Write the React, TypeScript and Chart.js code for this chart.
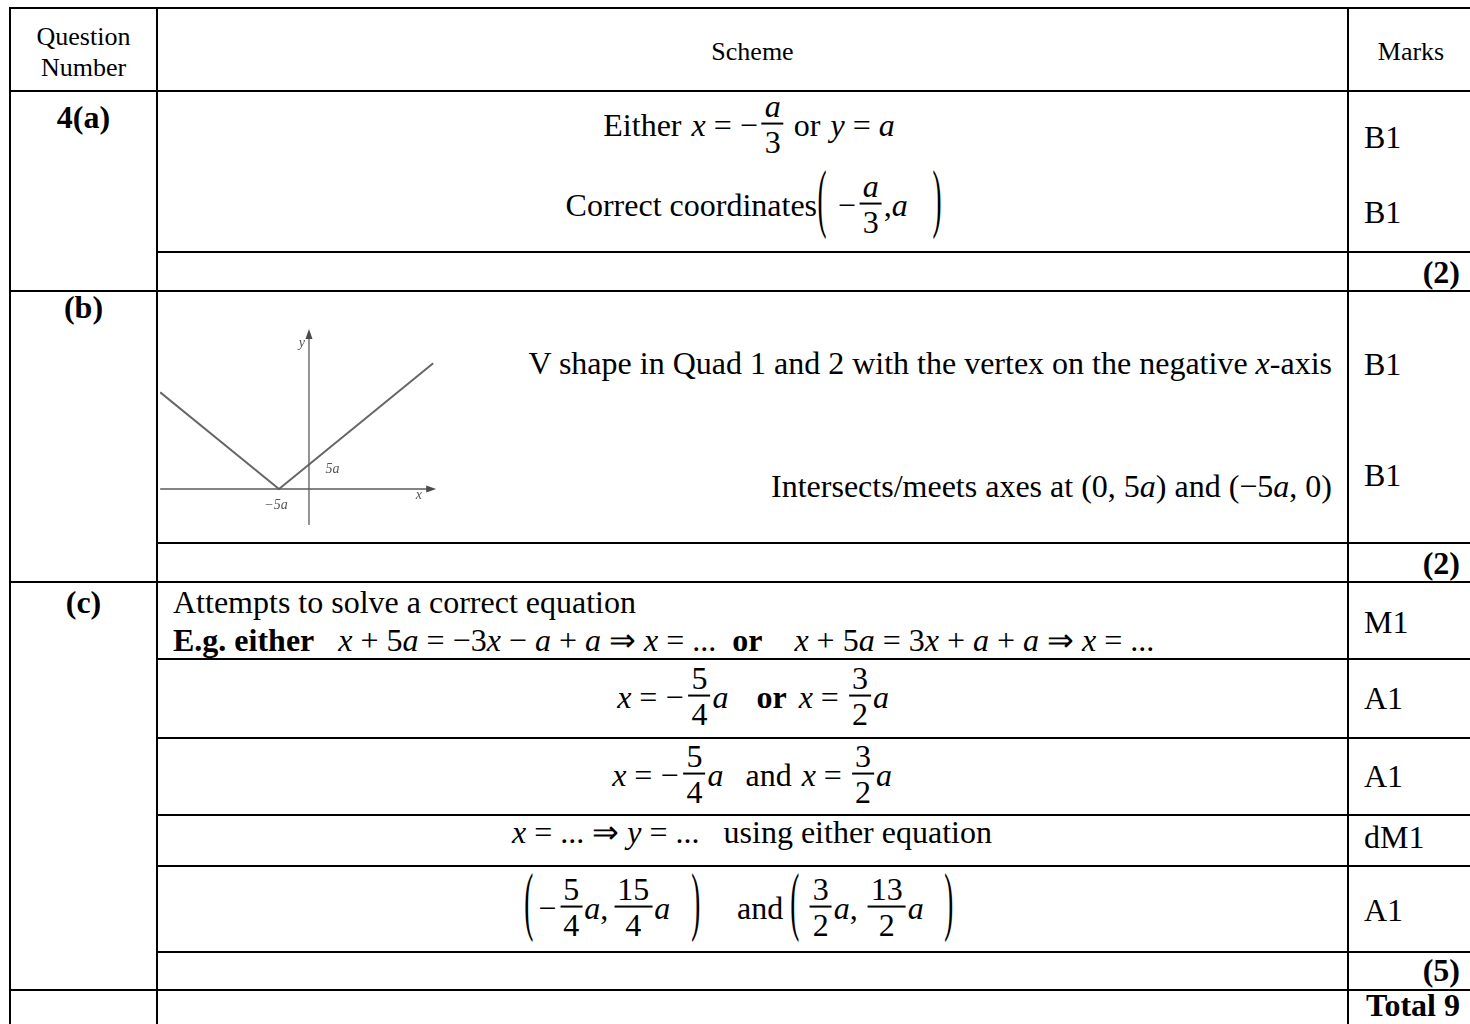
import React, { useEffect, useRef } from "react";
import { Chart, registerables } from "chart.js";

Chart.register(...registerables);

// ---------- data for the sketch graph (a = 1) ----------
const vShapeX = [-24.8, -5, 20.7];
const vShapeY = [18.6, 0, 24.2];
const xAxisX = [-24.8, 20.7];
const yAxisY = [-6.9, 30.2];
const graphLabelText = ["y", "x", "5a", "−5a"];
const graphLabelX = [-1.2, 18.3, 3.9, -5.5];
const graphLabelY = [28, -1.2, 3.7, -3.1];

// ---------- table text ----------
const headerTexts = ["Question", "Number", "Scheme", "Marks"];
const partLabels = ["4(a)", "(b)", "(c)"];
const subtotalMarks = ["(2)", "(2)", "(5)"];
const totalText = "Total 9";
const markCodes = ["B1", "B1", "B1", "B1", "M1", "A1", "A1", "dM1", "A1"];

const serif = '"Liberation Serif", "Times New Roman", serif';
const FS = 32;

const SketchGraph: React.FC = () => {
  const ref = useRef<HTMLCanvasElement | null>(null);
  useEffect(() => {
    if (!ref.current) return;
    const arrowPlugin = {
      id: "axesDecor",
      afterDatasetsDraw(chart: any) {
        const { ctx, scales } = chart;
        const xs = scales.x;
        const ys = scales.y;
        ctx.save();
        ctx.fillStyle = "#4a4a4a";
        const ax = xs.getPixelForValue(xAxisX[1]);
        const ay = ys.getPixelForValue(0);
        ctx.beginPath();
        ctx.moveTo(ax + 3, ay);
        ctx.lineTo(ax - 7, ay - 3.5);
        ctx.lineTo(ax - 7, ay + 3.5);
        ctx.closePath();
        ctx.fill();
        const bx = xs.getPixelForValue(0);
        const by = ys.getPixelForValue(yAxisY[1]);
        ctx.beginPath();
        ctx.moveTo(bx, by - 3);
        ctx.lineTo(bx - 3.5, by + 7);
        ctx.lineTo(bx + 3.5, by + 7);
        ctx.closePath();
        ctx.fill();
        ctx.fillStyle = "#555";
        ctx.font = 'italic 14px "Liberation Serif", serif';
        ctx.textAlign = "center";
        ctx.textBaseline = "middle";
        graphLabelText.forEach((t, i) => {
          ctx.fillText(t, xs.getPixelForValue(graphLabelX[i]), ys.getPixelForValue(graphLabelY[i]));
        });
        ctx.restore();
      },
    };
    const chart = new Chart(ref.current, {
      type: "scatter",
      data: {
        datasets: [
          {
            data: xAxisX.map((x) => ({ x, y: 0 })),
            showLine: true,
            borderColor: "#5a5a5a",
            borderWidth: 1.3,
            pointRadius: 0,
          },
          {
            data: yAxisY.map((y) => ({ x: 0, y })),
            showLine: true,
            borderColor: "#5a5a5a",
            borderWidth: 1.3,
            pointRadius: 0,
          },
          {
            data: vShapeX.map((x, i) => ({ x, y: vShapeY[i] })),
            showLine: true,
            borderColor: "#666",
            borderWidth: 2,
            pointRadius: 0,
          },
        ],
      },
      options: {
        animation: false,
        responsive: false,
        devicePixelRatio: 1,
        layout: { padding: 0 },
        plugins: { legend: { display: false }, tooltip: { enabled: false } },
        scales: {
          x: { type: "linear", display: false, min: -24.83, max: 22.17 },
          y: { type: "linear", display: false, min: -7.5, max: 30.96 },
        },
      },
      plugins: [arrowPlugin],
    });
    return () => chart.destroy();
  }, []);
  return (
    <canvas
      ref={ref}
      width={282}
      height={200}
      style={{ position: "absolute", left: 160, top: 328, width: 282, height: 200 }}
    />
  );
};

// ---------- helpers ----------
const HL = ({ y, x1, x2 }: { y: number; x1: number; x2: number }) => (
  <div style={{ position: "absolute", left: x1 - 1, top: y - 1, width: x2 - x1 + 2, height: 2, background: "#000" }} />
);
const VL = ({ x, y1, y2 }: { x: number; y1: number; y2: number }) => (
  <div style={{ position: "absolute", left: x - 1, top: y1 - 1, width: 2, height: y2 - y1 + 2, background: "#000" }} />
);

type TProps = {
  x: number;
  base: number;
  align?: "left" | "center" | "right";
  size?: number;
  bold?: boolean;
  children: React.ReactNode;
};
const T = ({ x, base, align = "left", size = FS, bold = false, children }: TProps) => {
  const tx = align === "center" ? "-50%" : align === "right" ? "-100%" : "0";
  return (
    <div
      style={{
        position: "absolute",
        left: x,
        top: base - 0.8375 * size,
        fontSize: size,
        lineHeight: `${size}px`,
        fontWeight: bold ? "bold" : "normal",
        whiteSpace: "pre",
        transform: `translateX(${tx})`,
      }}
    >
      {children}
    </div>
  );
};

const M = ({ x, base, align = "center", children }: { x: number; base: number; align?: string; children: React.ReactNode }) => {
  const tx = align === "center" ? "-50%" : align === "right" ? "-100%" : "0";
  return (
    <div
      style={{
        position: "absolute",
        left: x,
        top: base - 0.3375 * FS,
        transform: `translate(${tx}, -50%)`,
        display: "flex",
        alignItems: "center",
        fontSize: FS,
        lineHeight: 1,
        whiteSpace: "pre",
      }}
    >
      {children}
    </div>
  );
};

const S = ({ children, bold, ml = 0, mr = 0 }: { children: React.ReactNode; bold?: boolean; ml?: number; mr?: number }) => (
  <span style={{ whiteSpace: "pre", fontWeight: bold ? "bold" : "normal", marginLeft: ml, marginRight: mr }}>
    {children}
  </span>
);
const I = ({ children }: { children: React.ReactNode }) => <span style={{ fontStyle: "italic" }}>{children}</span>;
const Op = ({ children, l = 8, r = 8 }: { children: React.ReactNode; l?: number; r?: number }) => (
  <span style={{ marginLeft: l, marginRight: r }}>{children}</span>
);
const Frac = ({ n, d }: { n: React.ReactNode; d: React.ReactNode }) => (
  <span style={{ display: "inline-flex", flexDirection: "column", alignItems: "center", margin: "0 2px" }}>
    <span style={{ lineHeight: 0.85, padding: "0 3px" }}>{n}</span>
    <span style={{ height: 1.5, background: "#000", alignSelf: "stretch", margin: "3px 0 4px" }} />
    <span style={{ lineHeight: 0.85 }}>{d}</span>
  </span>
);
const P = ({ c }: { c: string }) => (
  <span
    style={{
      display: "inline-block",
      transform: "translateY(-3px) scale(0.85, 2.4)",
      transformOrigin: "50% 60%",
      lineHeight: 1,
    }}
  >
    {c}
  </span>
);

export default function App() {
  const c1L = 10,
    c1R = 157,
    c2R = 1348,
    R = 1472;
  const c1C = (c1L + c1R) / 2;
  const c2C = (c1R + c2R) / 2;
  const mx = 1364;
  const rowLines = [8, 91, 252, 291, 543, 582, 659, 738, 815, 866, 952, 990];
  const fullLines = [8, 91, 291, 582, 990];
  return (
    <div
      style={{
        position: "fixed",
        left: 0,
        top: 0,
        width: 1470,
        height: 1024,
        overflow: "hidden",
        background: "#fff",
        fontFamily: serif,
        color: "#000",
      }}
    >
      {rowLines.map((y) => (
        <HL key={y} y={y} x1={fullLines.includes(y) ? c1L : c1R} x2={R} />
      ))}
      <VL x={c1L} y1={8} y2={1030} />
      <VL x={c1R} y1={8} y2={1030} />
      <VL x={c2R} y1={8} y2={1030} />

      {/* header */}
      <T x={c1C} base={46} align="center" size={26}>
        {headerTexts[0]}
      </T>
      <T x={c1C} base={77} align="center" size={26}>
        {headerTexts[1]}
      </T>
      <T x={c2C} base={61} align="center" size={26}>
        {headerTexts[2]}
      </T>
      <T x={1411} base={61} align="center" size={26}>
        {headerTexts[3]}
      </T>

      {/* part labels */}
      <T x={c1C} base={128} align="center" bold>
        {partLabels[0]}
      </T>
      <T x={c1C} base={318} align="center" bold>
        {partLabels[1]}
      </T>
      <T x={c1C} base={613} align="center" bold>
        {partLabels[2]}
      </T>

      {/* subtotals */}
      <T x={1460} base={283} align="right" bold>
        {subtotalMarks[0]}
      </T>
      <T x={1460} base={574} align="right" bold>
        {subtotalMarks[1]}
      </T>
      <T x={1460} base={981} align="right" bold>
        {subtotalMarks[2]}
      </T>
      <T x={1460} base={1016} align="right" bold>
        {totalText}
      </T>

      {/* marks */}
      {[148, 223, 375, 486, 633, 709, 787, 848, 921].map((b, i) => (
        <T key={i} x={mx} base={b}>
          {markCodes[i]}
        </T>
      ))}

      {/* (a) */}
      <M x={749} base={135}>
        <S mr={10}>Either</S>
        <I>x</I>
        <Op>=</Op>
        <Op l={0} r={2}>−</Op>
        <Frac n={<I>a</I>} d="3" />
        <S ml={8} mr={10}>or</S>
        <I>y</I>
        <Op>=</Op>
        <I>a</I>
      </M>
      <M x={754} base={215}>
        <S>Correct coordinates</S>
        <P c="(" />
        <Op l={10} r={2}>−</Op>
        <Frac n={<I>a</I>} d="3" />
        <S>,</S>
        <I>a</I>
        <S mr={16}> </S>
        <P c=")" />
      </M>

      {/* (b) */}
      <SketchGraph />
      <T x={1332} base={374} align="right">
        V shape in Quad 1 and 2 with the vertex on the negative <I>x</I>-axis
      </T>
      <T x={1332} base={497} align="right">
        Intersects/meets axes at (0, 5<I>a</I>) and (−5<I>a</I>, 0)
      </T>

      {/* (c) */}
      <T x={173} base={613}>
        Attempts to solve a correct equation
      </T>
      <T x={173} base={651}>
        <b>E.g. either</b>
        {"   "}
        <I>x</I> + 5<I>a</I> = −3<I>x</I> − <I>a</I> + <I>a</I> ⇒ <I>x</I> = ...{"  "}
        <b>or</b>
        {"    "}
        <I>x</I> + 5<I>a</I> = 3<I>x</I> + <I>a</I> + <I>a</I> ⇒ <I>x</I> = ...
      </T>
      <M x={753} base={707}>
        <I>x</I>
        <Op>=</Op>
        <Op l={0} r={3}>−</Op>
        <Frac n="5" d="4" />
        <I>a</I>
        <S bold ml={28} mr={12}>or</S>
        <I>x</I>
        <Op>=</Op>
        <Frac n="3" d="2" />
        <I>a</I>
      </M>
      <M x={752} base={785}>
        <I>x</I>
        <Op>=</Op>
        <Op l={0} r={3}>−</Op>
        <Frac n="5" d="4" />
        <I>a</I>
        <S ml={22} mr={10}>and</S>
        <I>x</I>
        <Op>=</Op>
        <Frac n="3" d="2" />
        <I>a</I>
      </M>
      <T x={752} base={843} align="center">
        <I>x</I> = ... ⇒ <I>y</I> = ...{"   "}using either equation
      </T>
      <M x={739} base={918}>
        <P c="(" />
        <Op l={4} r={2}>−</Op>
        <Frac n="5" d="4" />
        <I>a</I>
        <S mr={4}>,</S>
        <Frac n="15" d="4" />
        <I>a</I>
        <S mr={12}> </S>
        <P c=")" />
        <S ml={36} mr={6}>and</S>
        <P c="(" />
        <S> </S>
        <Frac n="3" d="2" />
        <I>a</I>
        <S mr={8}>,</S>
        <Frac n="13" d="2" />
        <I>a</I>
        <S mr={12}> </S>
        <P c=")" />
      </M>
    </div>
  );
}
